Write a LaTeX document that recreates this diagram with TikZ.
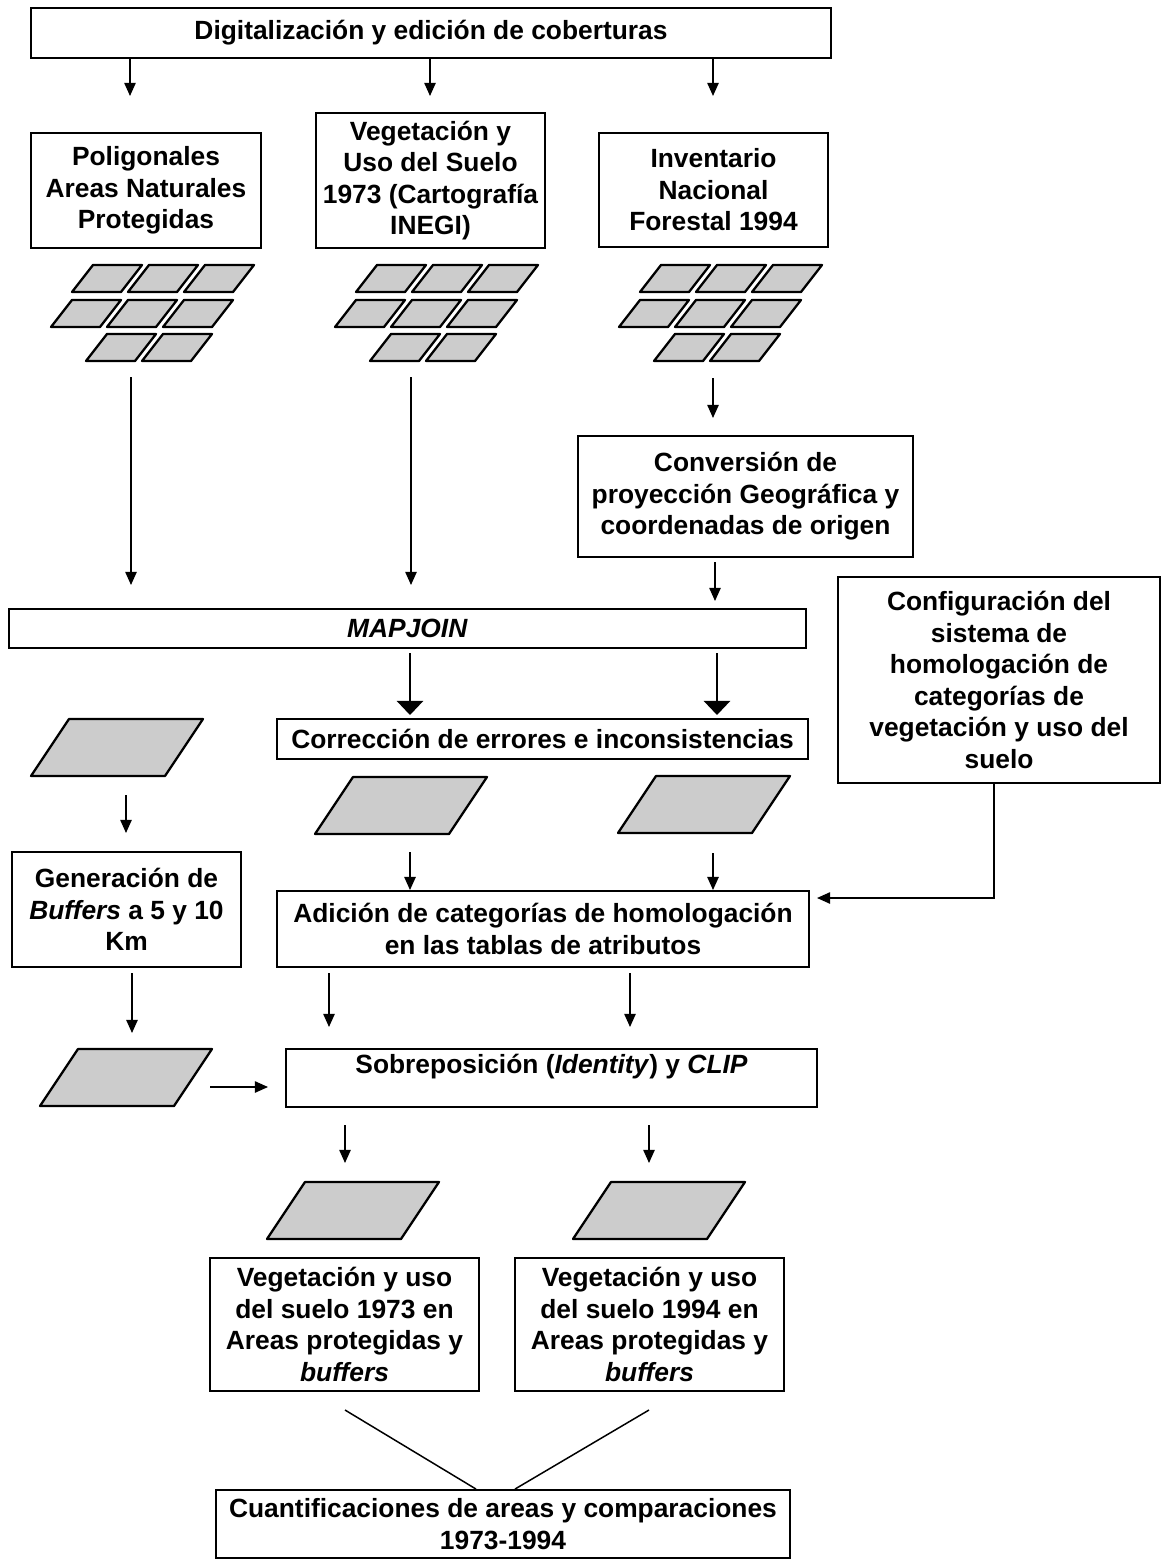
\documentclass[tikz,border=0pt]{standalone}
\usepackage{fontspec}
\setmainfont{Liberation Sans}
\usetikzlibrary{arrows.meta}
\tikzstyle{box}=[draw, line width=1.1pt, align=center, inner sep=0pt, font=\fontsize{15}{17.9}\selectfont\bfseries]
\tikzstyle{arr}=[line width=0.85pt, -{Triangle[length=7.5pt,width=6.5pt]}]
\tikzstyle{bigarr}=[line width=0.85pt, -{Triangle[length=8pt,width=15pt]}]
\tikzstyle{cell}=[draw, fill=black!20, line width=1.3pt, line join=round]
\tikzstyle{link}=[line width=0.85pt]

\begin{document}
\begin{tikzpicture}[x=0.02cm, y=-0.02cm]
		\useasboundingbox (0,0) rectangle (1165,1564);
		% boxes
		\node[box, minimum width=16cm, minimum height=1cm] (digit) at (431,33) {Digitalización y edición de coberturas};
		\node[box, minimum width=4.6cm, minimum height=2.3cm] (polig) at (146,190.5) {Poligonales\\Areas Naturales\\Protegidas};
		\node[box, minimum width=4.58cm, minimum height=2.7cm] (vegusv) at (430.5,180.5) {Vegetación y\\Uso del Suelo\\1973 (Cartografía\\INEGI)};
		\node[box, minimum width=4.58cm, minimum height=2.28cm] (invent) at (713.5,190) {Inventario\\Nacional\\Forestal 1994};
		\node[box, minimum width=6.7cm, minimum height=2.42cm] (convers) at (745.5,496.5) {Conversión de\\proyección Geográfica y\\coordenadas de origen};
		\node[box, minimum width=15.94cm, minimum height=0.78cm] (mapjoin) at (407.5,628.5) {\textit{MAPJOIN}};
		\node[box, minimum width=6.44cm, minimum height=4.12cm] (config) at (999,680) {Configuración del\\sistema de\\homologación de\\categorías de\\vegetación y uso del\\suelo};
		\node[box, minimum width=10.62cm, minimum height=0.8cm] (correc) at (542.5,739) {Corrección de errores e inconsistencias};
		\node[box, minimum width=4.58cm, minimum height=2.3cm] (genbuf) at (126.5,909.5) {Generación de\\\textit{Buffers} a 5 y 10\\Km};
		\node[box, minimum width=10.64cm, minimum height=1.52cm] (adicion) at (543,929) {Adición de categorías de homologación\\en las tablas de atributos};
		\node[box, minimum width=10.62cm, minimum height=1.16cm, text depth=16pt] (sobrep) at (551.5,1078) {Sobreposición (\textit{Identity}) y \textit{CLIP}};
		\node[box, minimum width=5.38cm, minimum height=2.66cm] (veg73) at (344.5,1324.5) {Vegetación y uso\\del suelo 1973 en\\Areas protegidas y\\\textit{buffers}};
		\node[box, minimum width=5.38cm, minimum height=2.66cm] (veg94) at (649.5,1324.5) {Vegetación y uso\\del suelo 1994 en\\Areas protegidas y\\\textit{buffers}};
		\node[box, minimum width=11.48cm, minimum height=1.36cm] (cuantif) at (503,1524) {Cuantificaciones de areas y comparaciones\\1973-1994};

		% map sheets
		\foreach \gx in {0,284,568}
			\foreach \x/\y in {93/265,149/265,205/265,72/300,128/300,184/300,107/334,163/334}
				\draw[cell] (\gx+\x,\y) -- ++(49,0) -- ++(-21,27) -- ++(-49,0) -- cycle;
		% single layers
		\foreach \x/\y in {69/719,353/777,656/776,78/1049,305/1182,611/1182}
			\draw[cell] (\x,\y) -- ++(134,0) -- ++(-38,57) -- ++(-134,0) -- cycle;

		% arrow ends
		\coordinate (top1) at (130,96);
		\coordinate (top2) at (430,96);
		\coordinate (top3) at (713,96);
		\coordinate (sh1a) at (131,377);
		\coordinate (sh1b) at (131,585);
		\coordinate (sh2a) at (411,377);
		\coordinate (sh2b) at (411,585);
		\coordinate (sh3a) at (713,378);
		\coordinate (sh3b) at (713,418);
		\coordinate (cva) at (715,562);
		\coordinate (cvb) at (715,601);
		\coordinate (mj1a) at (410,653);
		\coordinate (mj1b) at (410,715);
		\coordinate (mj2a) at (717,653);
		\coordinate (mj2b) at (717,715);
		\coordinate (lyra) at (126,795);
		\coordinate (lyrb) at (126,833);
		\coordinate (ly1a) at (410,852);
		\coordinate (ly2a) at (713,853);
		\coordinate (cfgdown) at (994,898);
		\coordinate (cfgtip) at (817,898);
		\coordinate (gba) at (132,973);
		\coordinate (gbb) at (132,1033);
		\coordinate (ad1a) at (329,973);
		\coordinate (ad1b) at (329,1027);
		\coordinate (ad2a) at (630,973);
		\coordinate (ad2b) at (630,1027);
		\coordinate (bfa) at (210,1087);
		\coordinate (bfb) at (268,1087);
		\coordinate (so1a) at (345,1125);
		\coordinate (so1b) at (345,1163);
		\coordinate (so2a) at (649,1125);
		\coordinate (so2b) at (649,1163);
		\coordinate (jn1) at (345,1410);
		\coordinate (jn2) at (649,1410);

		% connection
		\foreach \i in {1,2,3}
			\draw[arr] (digit.south -| top\i) -- (top\i);
		\draw[arr] (sh1a) -- (sh1b);
		\draw[arr] (sh2a) -- (sh2b);
		\draw[arr] (sh3a) -- (sh3b);
		\draw[arr] (cva) -- (cvb);
		\draw[bigarr] (mj1a) -- (mj1b);
		\draw[bigarr] (mj2a) -- (mj2b);
		\draw[arr] (lyra) -- (lyrb);
		\draw[arr] (ly1a) -- (adicion.north -| ly1a);
		\draw[arr] (ly2a) -- (adicion.north -| ly2a);
		\draw[arr] (config.south -| cfgdown) -- (cfgdown) -- (cfgtip);
		\draw[arr] (gba) -- (gbb);
		\draw[arr] (ad1a) -- (ad1b);
		\draw[arr] (ad2a) -- (ad2b);
		\draw[arr] (bfa) -- (bfb);
		\draw[arr] (so1a) -- (so1b);
		\draw[arr] (so2a) -- (so2b);
		% join
		\draw[link] (jn1) -- (cuantif.north -| 476,0);
		\draw[link] (jn2) -- (cuantif.north -| 515,0);
	\end{tikzpicture}
\end{document}
